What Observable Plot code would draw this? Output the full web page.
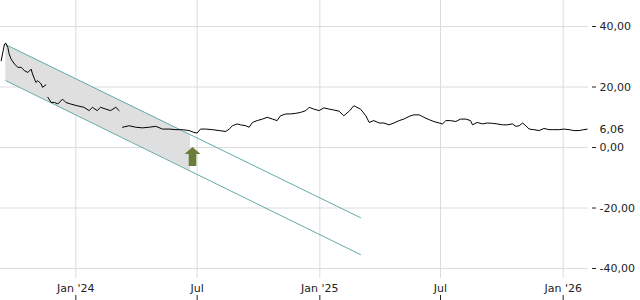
<!DOCTYPE html>
<html><head><meta charset="utf-8">
<script src="https://cdn.jsdelivr.net/npm/d3@7"></script>
<script src="https://cdn.jsdelivr.net/npm/@observablehq/plot@0.6"></script>
<style>body{margin:0;background:#fff} svg{display:block}</style>
</head><body><div id="chart"></div>
<script>
const priceDates = [
"2023-09-11","2023-09-16","2023-09-18","2023-09-21","2023-09-23","2023-09-26","2023-10-01","2023-10-06","2023-10-11","2023-10-16",
"2023-10-21","2023-10-26","2023-10-28","2023-10-31","2023-11-02","2023-11-05","2023-11-10","2023-11-12","2023-11-17","2023-11-18",
"2023-11-20","2023-11-25","2023-11-30","2023-12-05","2023-12-12","2023-12-17","2023-12-24","2024-01-03","2024-01-13","2024-01-21",
"2024-01-26","2024-02-02","2024-02-07","2024-02-15","2024-02-22","2024-03-01","2024-03-06","2024-03-08","2024-03-11","2024-03-21",
"2024-03-31","2024-04-10","2024-04-20","2024-04-30","2024-05-10","2024-05-20","2024-05-30","2024-06-09","2024-06-19","2024-06-26",
"2024-07-01","2024-07-06","2024-07-14","2024-07-24","2024-08-03","2024-08-13","2024-08-18","2024-08-23","2024-08-30","2024-09-04",
"2024-09-12","2024-09-17","2024-09-22","2024-09-29","2024-10-07","2024-10-14","2024-10-22","2024-10-29","2024-11-03","2024-11-11",
"2024-11-18","2024-11-26","2024-12-03","2024-12-11","2024-12-16","2024-12-23","2024-12-31","2025-01-07","2025-01-15","2025-01-22",
"2025-01-30","2025-02-06","2025-02-14","2025-02-21","2025-02-23","2025-03-03","2025-03-11","2025-03-16","2025-03-23","2025-03-31",
"2025-04-07","2025-04-15","2025-04-22","2025-04-30","2025-05-07","2025-05-15","2025-05-22","2025-05-30","2025-06-06","2025-06-14",
"2025-06-21","2025-06-29","2025-07-04","2025-07-09","2025-07-16","2025-07-24","2025-07-31","2025-08-08","2025-08-15","2025-08-18",
"2025-08-25","2025-09-02","2025-09-09","2025-09-17","2025-09-24","2025-10-02","2025-10-09","2025-10-17","2025-10-22","2025-10-27",
"2025-11-01","2025-11-06","2025-11-11","2025-11-18","2025-11-26","2025-12-03","2025-12-11","2025-12-18","2025-12-26","2026-01-02",
"2026-01-10","2026-01-17","2026-01-25","2026-02-01","2026-02-06"];
const priceValues = [
28.7,34.2,34.5,33.1,30.9,29.2,27.6,26.5,26.5,25.4,
24.8,25.9,24.3,22.7,21.5,22.1,21.0,19.9,20.7,null,
16.6,14.9,14.9,14.4,16.0,14.9,14.4,13.8,13.3,12.2,
13.3,12.2,13.3,12.7,12.2,13.3,12.2,null,6.7,7.2,
6.7,6.5,6.7,7.0,6.1,6.1,5.9,5.9,5.6,5.0,
4.8,6.1,6.1,5.9,5.6,5.3,6.1,7.2,7.8,7.5,
7.2,6.7,8.3,8.9,9.4,10.0,9.4,8.9,10.5,11.1,
11.1,11.3,11.6,12.2,13.3,12.7,12.2,13.1,12.7,12.4,
12.0,10.5,12.0,13.8,13.6,12.7,10.5,8.3,8.9,8.1,
8.1,7.5,8.1,8.9,9.4,10.3,10.8,10.8,10.0,9.2,
8.6,8.1,7.8,8.9,8.9,8.6,9.4,9.4,8.9,7.5,
8.3,7.8,8.1,8.0,7.8,7.5,7.5,7.8,7.0,7.2,
8.1,7.2,6.1,5.9,5.6,6.3,5.9,5.9,5.9,6.1,
5.9,5.6,5.6,5.9,6.06];
const lastValue = 6.06;

const channelDates = ["2023-09-18","2025-03-03"];
const channelUpper = [34.0,-23.2];
const channelLower = [22.1,-35.4];
const fillDates = ["2023-09-18","2024-06-21"];
const fillUpper = [34.0,4.2];
const fillLower = [22.1,-7.8];

const arrowDate = "2024-06-24";
const arrowBase = -6.1;

const xTickDates = ["2024-01-01","2024-07-01","2025-01-01","2025-07-01","2026-01-01"];
const xTickLabels = ["Jan '24","Jul","Jan '25","Jul","Jan '26"];
const yTicks = [40,20,0,-20,-40];

const parse = s => new Date(s + "T00:00:00Z");
const price = priceDates.map((d,i) => ({date: parse(d), value: priceValues[i] == null ? NaN : priceValues[i]}));
const upper = channelDates.map((d,i) => ({date: parse(d), v: channelUpper[i]}));
const lower = channelDates.map((d,i) => ({date: parse(d), v: channelLower[i]}));
const band = fillDates.map((d,i) => ({date: parse(d), lo: fillLower[i], hi: fillUpper[i]}));
const xTicks = xTickDates.map(parse);
const fmt = d => d.toFixed(2).replace(".", ",");
const xLabel = d => xTickLabels[xTicks.findIndex(t => +t === +d)];

const arrowShape = {
  draw(ctx, l) {
    ctx.moveTo(-3.8, 0);
    ctx.lineTo(-3.8, -l + 7);
    ctx.lineTo(-8, -l + 7);
    ctx.lineTo(0, -l);
    ctx.lineTo(8, -l + 7);
    ctx.lineTo(3.8, -l + 7);
    ctx.lineTo(3.8, 0);
    ctx.closePath();
  }
};

const chart = Plot.plot({
  width: 640, height: 300,
  marginTop: 0, marginLeft: 0, marginRight: 52, marginBottom: 22,
  style: {fontFamily: "DejaVu Sans", fontSize: "11px", color: "#222", background: "#fff"},
  x: {type: "utc", domain: [parse("2023-09-10"), parse("2026-02-08")]},
  y: {domain: [-43.3, 48.6]},
  marks: [
    Plot.gridX(xTicks, {stroke: "#dcdcdc", strokeOpacity: 1}),
    Plot.gridY(yTicks, {stroke: "#dcdcdc", strokeOpacity: 1}),
    Plot.areaY(band, {x: "date", y1: "lo", y2: "hi", fill: "#dfdfdf"}),
    Plot.line(upper, {x: "date", y: "v", stroke: "#62abab", strokeWidth: 1}),
    Plot.line(lower, {x: "date", y: "v", stroke: "#62abab", strokeWidth: 1}),
    Plot.line(price, {x: "date", y: "value", stroke: "#000", strokeWidth: 1}),
    Plot.vector([{date: parse(arrowDate), y: arrowBase}], {x: "date", y: "y", length: 19, anchor: "start", shape: arrowShape, fill: "#6b7d3a", stroke: "none"}),
    Plot.axisY(yTicks, {anchor: "right", tickSize: 4, dx: 3, tickPadding: 4, tickFormat: fmt, label: null}),
    Plot.axisY([lastValue], {anchor: "right", tickSize: 0, dx: 3, tickPadding: 8, tickFormat: fmt, label: null}),
    Plot.axisX(xTicks, {anchor: "bottom", tickSize: 0, tickPadding: 6, tickFormat: xLabel, label: null}),
    Plot.axisX(xTicks, {anchor: "bottom", tickSize: 5, dy: 17, tickFormat: () => "", label: null})
  ]
});
document.getElementById("chart").appendChild(chart);
</script>
</body></html>
